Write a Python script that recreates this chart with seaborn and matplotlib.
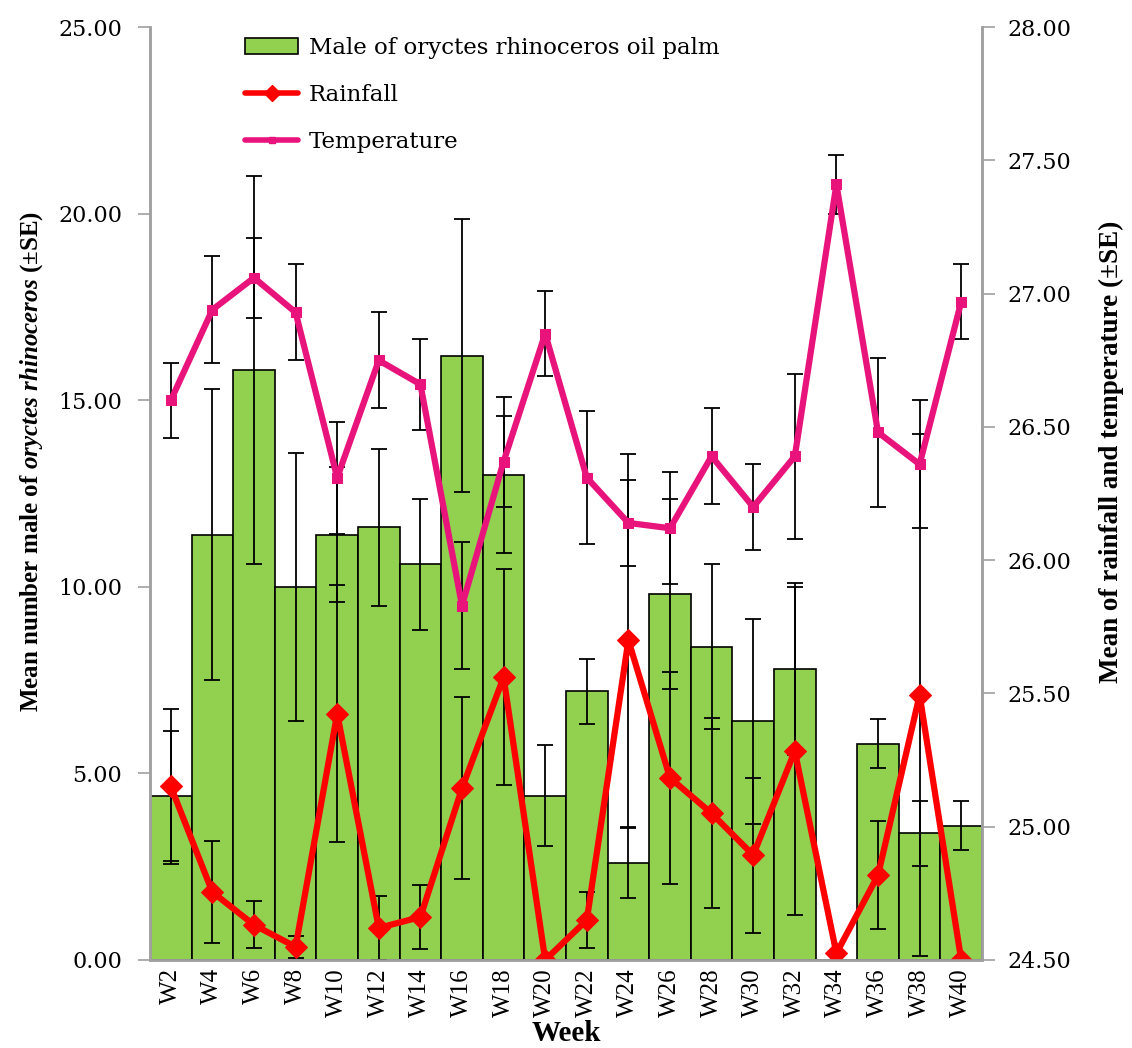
import numpy as np
import matplotlib
matplotlib.use('Agg')
import matplotlib.pyplot as plt
import seaborn as sns
from matplotlib.patches import Patch
from matplotlib.lines import Line2D

weeks = ['W2', 'W4', 'W6', 'W8', 'W10', 'W12', 'W14', 'W16', 'W18', 'W20',
         'W22', 'W24', 'W26', 'W28', 'W30', 'W32', 'W34', 'W36', 'W38', 'W40']

# mean number of male oryctes rhinoceros and SE (left axis)
male = [4.4, 11.4, 15.8, 10.0, 11.4, 11.6, 10.6, 16.2, 13.0, 4.4,
        7.2, 2.6, 9.8, 8.4, 6.4, 7.8, 0.0, 5.8, 3.4, 3.6]
male_se = [1.75, 3.9, 5.2, 3.6, 1.8, 2.1, 1.75, 3.65, 2.1, 1.35,
           0.87, 0.94, 2.55, 2.2, 2.75, 2.3, 0.0, 0.66, 0.87, 0.65]

# rainfall mean and SE
rain = [4.65, 1.82, 0.94, 0.35, 6.6, 0.86, 1.15, 4.6, 7.58, 0.0,
        1.07, 8.57, 4.88, 3.93, 2.81, 5.6, 0.18, 2.27, 7.1, 0.0]
rain_se = [2.07, 1.37, 0.63, 0.3, 3.45, 0.85, 0.85, 2.44, 2.9, 0.0,
           0.75, 5.0, 2.84, 2.55, 2.08, 4.4, 0.0, 1.45, 7.0, 0.0]

# temperature mean and SE (right axis)
temp = [26.60, 26.94, 27.06, 26.93, 26.31, 26.75, 26.66, 25.83, 26.37, 26.85,
        26.31, 26.14, 26.12, 26.39, 26.20, 26.39, 27.41, 26.48, 26.36, 26.97]
temp_se = [0.14, 0.20, 0.15, 0.18, 0.21, 0.18, 0.17, 0.24, 0.17, 0.16,
           0.25, 0.16, 0.21, 0.18, 0.16, 0.31, 0.11, 0.28, 0.24, 0.14]

GREEN = '#92D050'
RED = '#FF0000'
PINK = '#E8147C'
GREY = '#A0A0A0'

sns.set_theme(style='white')
plt.rcParams['font.family'] = ['Liberation Serif', 'DejaVu Serif']
plt.rcParams['text.color'] = 'black'
plt.rcParams['axes.labelcolor'] = 'black'
plt.rcParams['xtick.color'] = 'black'
plt.rcParams['ytick.color'] = 'black'
plt.rcParams['mathtext.fontset'] = 'custom'
plt.rcParams['mathtext.rm'] = 'Liberation Serif:bold'
plt.rcParams['mathtext.it'] = 'Liberation Serif:italic:bold'
plt.rcParams['mathtext.bf'] = 'Liberation Serif:bold'

WIDE = ['DejaVu Serif']
pos = np.arange(len(weeks))

fig = plt.figure(figsize=(11.32, 10.48), dpi=100)
ax = fig.add_axes([0.1325, 0.084, 0.735, 0.890])

sns.barplot(x=weeks, y=male, width=1.0, color=GREEN, edgecolor='black',
            linewidth=1.2, saturation=1, ax=ax, zorder=1)
ax.errorbar(pos, male, yerr=male_se, fmt='none', ecolor='black',
            elinewidth=1.3, capsize=6, capthick=1.3, zorder=2)

sns.lineplot(x=pos, y=rain, color=RED, marker='D', markersize=11,
             markeredgecolor=RED, linewidth=4.5, ax=ax, zorder=4)
ax.errorbar(pos, rain, yerr=rain_se, fmt='none', ecolor='black',
            elinewidth=1.3, capsize=6, capthick=1.3, zorder=3)

ax2 = ax.twinx()
ax2.errorbar(pos, temp, yerr=temp_se, fmt='none', ecolor='black',
             elinewidth=1.3, capsize=6, capthick=1.3, zorder=2)
sns.lineplot(x=pos, y=temp, color=PINK, marker='s', markersize=7,
             markeredgecolor=PINK, linewidth=4.5, ax=ax2, zorder=3)

ax.set_xlim(-0.5, len(weeks) - 0.5)
ax2.set_xlim(-0.5, len(weeks) - 0.5)
ax.set_ylim(0, 25)
ax2.set_ylim(24.5, 28)
left_ticks = np.arange(0, 25.1, 5)
right_ticks = np.arange(24.5, 28.01, 0.5)
ax.set_yticks(left_ticks)
ax2.set_yticks(right_ticks)
ax.set_yticklabels([f'{v:.2f}' for v in left_ticks], fontsize=16, family=WIDE)
ax2.set_yticklabels([f'{v:.2f}' for v in right_ticks], fontsize=16, family=WIDE)

ax.set_xticks(pos)
ax.set_xticklabels(weeks, rotation=90, fontsize=18)
ax.set_xticks(np.arange(-0.5, len(weeks)), minor=True)
ax.tick_params(axis='x', which='major', length=0, pad=6)
ax.tick_params(axis='x', which='minor', length=7, color=GREY, width=1.2)
ax.tick_params(axis='y', length=9, color=GREY, width=1.2, left=True, pad=11)
ax2.tick_params(axis='y', length=9, color=GREY, width=1.2, right=True, pad=9)

for a in (ax, ax2):
    a.spines['top'].set_visible(False)
    for s in ('left', 'right', 'bottom'):
        a.spines[s].set_color(GREY)
        a.spines[s].set_linewidth(1.8)

ax.set_xlabel('Week', fontsize=21, fontweight='bold', labelpad=2)
ax.set_ylabel(r'Mean number male of $\mathit{oryctes\ rhinoceros}$ (±SE)',
              fontsize=18, fontweight='bold')
ax.yaxis.set_label_coords(-0.126, 0.534)
ax2.set_ylabel('Mean of rainfall and temperature (±SE)', fontsize=19.5,
               fontweight='bold', rotation=90)
ax2.yaxis.set_label_coords(1.14, 0.545)

handles = [
    Patch(facecolor=GREEN, edgecolor='black', linewidth=1.2),
    Line2D([], [], color=RED, marker='D', markersize=8, linewidth=4),
    Line2D([], [], color=PINK, marker='s', markersize=5, linewidth=4),
]
ax2.legend(handles, ['Male of oryctes rhinoceros oil palm', 'Rainfall', 'Temperature'],
           loc='upper left', bbox_to_anchor=(0.09, 1.012), frameon=False,
           prop={'family': WIDE, 'size': 16.5}, labelspacing=1.1,
           handlelength=2.3, handletextpad=0.45)

fig.savefig('out.png', dpi=100)
plt.close(fig)
